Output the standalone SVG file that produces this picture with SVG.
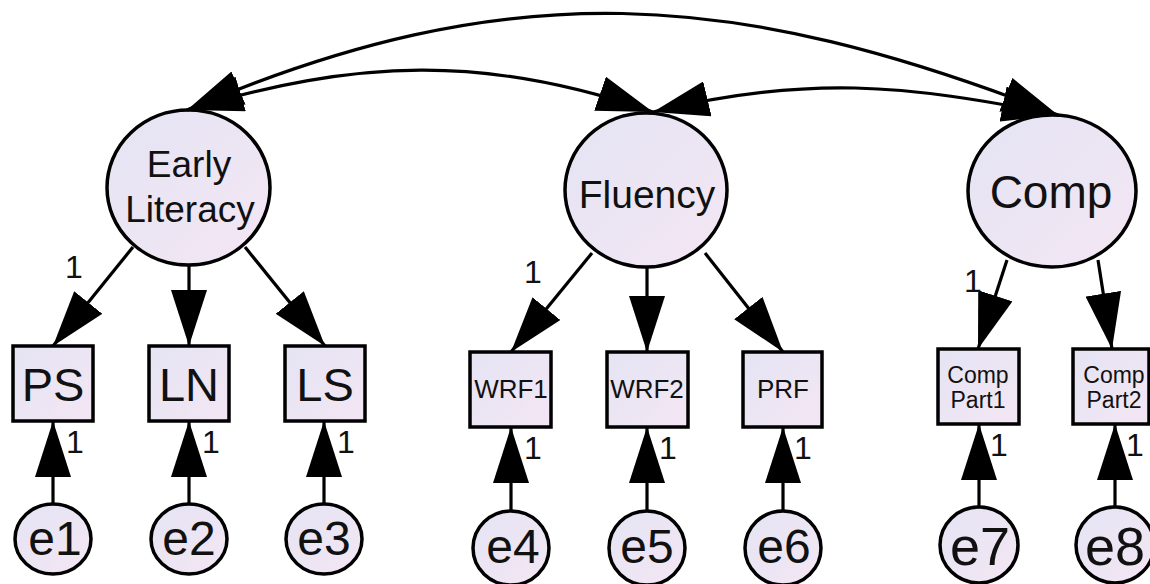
<svg xmlns="http://www.w3.org/2000/svg" width="1150" height="584" viewBox="0 0 1150 584">
<defs>
  <linearGradient id="fill" x1="0" y1="0" x2="1" y2="1">
    <stop offset="0" stop-color="#e4e4f3"/>
    <stop offset="1" stop-color="#f4e6f4"/>
  </linearGradient>
  <marker id="ah" markerUnits="userSpaceOnUse" viewBox="0 0 58 36" markerWidth="58" markerHeight="36" refX="56" refY="18" orient="auto-start-reverse">
    <path d="M0,0 L56,18 L0,36 z" fill="#000"/>
  </marker>
  <style>
    .shape { fill: url(#fill); stroke: #000; stroke-width: 3.5; }
    .t { font-family: "Liberation Sans", Arial, sans-serif; fill: #111; text-anchor: middle; }
    .c { fill: none; stroke: #000; stroke-width: 3.2; }
    .one { font-family: "Liberation Sans", Arial, sans-serif; fill: #111; text-anchor: middle; font-size: 32px; }
  </style>
</defs>
<rect width="1150" height="584" fill="#fff"/>

<g id="EarlyLiteracy">
  <ellipse class="shape" cx="188.5" cy="187.5" rx="81.5" ry="77.5"/>
  <text class="t" x="189" y="177" font-size="37">Early</text>
  <text class="t" x="190" y="222" font-size="37">Literacy</text>
</g>
<g id="Fluency">
  <ellipse class="shape" cx="646" cy="190" rx="81" ry="77"/>
  <text class="t" x="647" y="208" font-size="39">Fluency</text>
</g>
<g id="Comp">
  <ellipse class="shape" cx="1052" cy="191" rx="84" ry="76"/>
  <text class="t" x="1051" y="208" font-size="46">Comp</text>
</g>

<g id="PS">
  <rect class="shape" x="13" y="346" width="80" height="75"/>
  <text class="t" x="53" y="401" font-size="47">PS</text>
</g>
<g id="LN">
  <rect class="shape" x="149" y="346" width="80" height="75"/>
  <text class="t" x="189" y="401" font-size="47">LN</text>
</g>
<g id="LS">
  <rect class="shape" x="285" y="346" width="80" height="75"/>
  <text class="t" x="325" y="401" font-size="47">LS</text>
</g>
<g id="WRF1">
  <rect class="shape" x="470" y="352" width="81" height="75"/>
  <text class="t" x="511" y="398" font-size="26">WRF1</text>
</g>
<g id="WRF2">
  <rect class="shape" x="607" y="352" width="81" height="75"/>
  <text class="t" x="647" y="398" font-size="26">WRF2</text>
</g>
<g id="PRF">
  <rect class="shape" x="743" y="352" width="79" height="75"/>
  <text class="t" x="783" y="398" font-size="26">PRF</text>
</g>
<g id="CompPart1">
  <rect class="shape" x="938" y="349" width="81" height="75"/>
  <text class="t" x="978" y="383" font-size="23">Comp</text>
  <text class="t" x="978" y="408" font-size="23">Part1</text>
</g>
<g id="CompPart2">
  <rect class="shape" x="1073" y="349" width="76" height="75"/>
  <text class="t" x="1114" y="383" font-size="23">Comp</text>
  <text class="t" x="1114" y="408" font-size="23">Part2</text>
</g>

<g id="e1">
  <ellipse class="shape" cx="53" cy="539" rx="38" ry="35"/>
  <text class="t" x="55" y="555" font-size="48">e1</text>
</g>
<g id="e2">
  <ellipse class="shape" cx="189" cy="539" rx="38" ry="35"/>
  <text class="t" x="189" y="555" font-size="48">e2</text>
</g>
<g id="e3">
  <ellipse class="shape" cx="324" cy="539" rx="38" ry="35"/>
  <text class="t" x="324" y="555" font-size="48">e3</text>
</g>
<g id="e4">
  <ellipse class="shape" cx="511" cy="548" rx="38" ry="37"/>
  <text class="t" x="513" y="563" font-size="48">e4</text>
</g>
<g id="e5">
  <ellipse class="shape" cx="647" cy="548" rx="38" ry="37"/>
  <text class="t" x="647" y="563" font-size="48">e5</text>
</g>
<g id="e6">
  <ellipse class="shape" cx="783" cy="548" rx="38" ry="37"/>
  <text class="t" x="784" y="563" font-size="48">e6</text>
</g>
<g id="e7">
  <ellipse class="shape" cx="979" cy="545" rx="39" ry="38"/>
  <text class="t" x="980" y="565" font-size="54">e7</text>
</g>
<g id="e8">
  <ellipse class="shape" cx="1115" cy="545" rx="39" ry="38"/>
  <text class="t" x="1115" y="565" font-size="54">e8</text>
</g>

<g id="connectors">
  <path class="c" d="M187,110 C511,-28 734,-11 1058,115" marker-start="url(#ah)" marker-end="url(#ah)"/>
  <path class="c" d="M187,110 C357,59 485,54 653,112" marker-start="url(#ah)" marker-end="url(#ah)"/>
  <path class="c" d="M653,112 C807,75 903,84 1058,115" marker-start="url(#ah)" marker-end="url(#ah)"/>

  <line class="c" x1="133" y1="247" x2="53" y2="346" marker-end="url(#ah)"/>
  <line class="c" x1="189" y1="265" x2="189" y2="346" marker-end="url(#ah)"/>
  <line class="c" x1="245" y1="247" x2="325" y2="346" marker-end="url(#ah)"/>
  <line class="c" x1="592" y1="253" x2="511" y2="352" marker-end="url(#ah)"/>
  <line class="c" x1="647" y1="267" x2="647" y2="352" marker-end="url(#ah)"/>
  <line class="c" x1="705" y1="253" x2="783" y2="352" marker-end="url(#ah)"/>
  <line class="c" x1="1007" y1="260" x2="978" y2="349" marker-end="url(#ah)"/>
  <line class="c" x1="1098" y1="260" x2="1112" y2="349" marker-end="url(#ah)"/>

  <line class="c" x1="53" y1="504" x2="53" y2="421" marker-end="url(#ah)"/>
  <line class="c" x1="189" y1="504" x2="189" y2="421" marker-end="url(#ah)"/>
  <line class="c" x1="324" y1="504" x2="324" y2="421" marker-end="url(#ah)"/>
  <line class="c" x1="511" y1="511" x2="511" y2="427" marker-end="url(#ah)"/>
  <line class="c" x1="647" y1="511" x2="647" y2="427" marker-end="url(#ah)"/>
  <line class="c" x1="783" y1="511" x2="783" y2="427" marker-end="url(#ah)"/>
  <line class="c" x1="979" y1="507" x2="979" y2="424" marker-end="url(#ah)"/>
  <line class="c" x1="1115" y1="507" x2="1115" y2="424" marker-end="url(#ah)"/>

  <text class="one" x="74" y="278">1</text>
  <text class="one" x="533" y="283">1</text>
  <text class="one" x="973" y="292">1</text>
  <text class="one" x="75" y="453">1</text>
  <text class="one" x="211" y="453">1</text>
  <text class="one" x="346" y="453">1</text>
  <text class="one" x="533" y="459">1</text>
  <text class="one" x="668" y="459">1</text>
  <text class="one" x="803" y="459">1</text>
  <text class="one" x="999" y="456">1</text>
  <text class="one" x="1135" y="456">1</text>
</g>
</svg>
